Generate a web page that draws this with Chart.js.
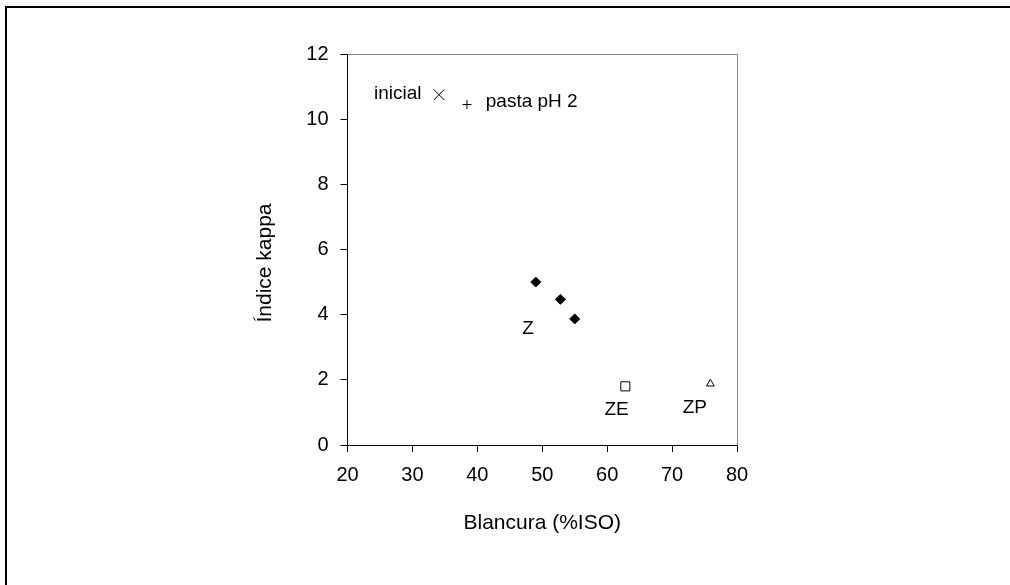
<!DOCTYPE html>
<html>
<head>
<meta charset="utf-8">
<script src="https://cdn.jsdelivr.net/npm/chart.js@4.4.1/dist/chart.umd.min.js"></script>
<style>
  html, body { margin: 0; padding: 0; background: #fff; }
  #wrap { width: 1010px; height: 585px; position: relative; }
</style>
</head>
<body>
<div id="wrap"><canvas id="grafico"></canvas></div>
<script>
// Datos
const xInicial = [34.1];
const yInicial = [10.75];
const xPastaPH2 = [38.4];
const yPastaPH2 = [10.45];
const xZ = [49.0, 52.8, 55.0];
const yZ = [5.0, 4.47, 3.87];
const xZE = [62.8];
const yZE = [1.8];
const xZP = [75.9];
const yZP = [1.88];

const xTicks = [20, 30, 40, 50, 60, 70, 80];
const yTicks = [0, 2, 4, 6, 8, 10, 12];

// Etiquetas de texto dentro del gráfico (en unidades de datos)
const etiquetas = ['inicial', 'pasta pH 2', 'Z', 'ZE', 'ZP'];
const etiquetaX = [31.4, 41.3, 47.8, 61.45, 73.5];
const etiquetaY = [10.77, 10.52, 3.58, 1.07, 1.13];
const etiquetaAlign = ['right', 'left', 'center', 'center', 'center'];

const tituloY = 'Índice kappa';

const puntos = (xs, ys) => xs.map((x, i) => ({ x: x, y: ys[i] }));
const fuente = "'Liberation Sans', Arial, sans-serif";

const marco = {
  id: 'marco',
  afterDraw(chart) {
    const c = chart.ctx;
    const a = chart.chartArea;
    c.save();
    // borde exterior
    c.fillStyle = '#000';
    c.fillRect(5, 6, 1005, 2);
    c.fillRect(5, 6, 2, 579);
    // lados superior y derecho del área de trazado
    c.strokeStyle = '#808080';
    c.lineWidth = 1;
    c.beginPath();
    c.moveTo(a.left, a.top + 0.5);
    c.lineTo(a.right + 0.5, a.top + 0.5);
    c.lineTo(a.right + 0.5, a.bottom);
    c.stroke();
    // etiquetas
    c.fillStyle = '#000';
    c.font = '19px ' + fuente;
    c.textBaseline = 'middle';
    const sx = chart.scales.x, sy = chart.scales.y;
    etiquetas.forEach((t, i) => {
      c.textAlign = etiquetaAlign[i];
      c.fillText(t, sx.getPixelForValue(etiquetaX[i]), sy.getPixelForValue(etiquetaY[i]));
    });
    // título del eje y
    c.font = '21px ' + fuente;
    c.textAlign = 'center';
    c.translate(265, 263);
    c.rotate(-Math.PI / 2);
    c.fillText(tituloY, 0, 0);
    c.restore();
  }
};

Chart.defaults.font.family = fuente;
Chart.defaults.color = '#000';

new Chart(document.getElementById('grafico').getContext('2d'), {
  type: 'scatter',
  data: {
    datasets: [
      { label: 'inicial', data: puntos(xInicial, yInicial), pointStyle: 'crossRot', pointRadius: 7.5, borderColor: '#000', borderWidth: 1 },
      { label: 'pasta pH 2', data: puntos(xPastaPH2, yPastaPH2), pointStyle: 'cross', pointRadius: 4.5, borderColor: '#000', borderWidth: 1 },
      { label: 'Z', data: puntos(xZ, yZ), pointStyle: 'rectRot', pointRadius: 5, backgroundColor: '#000', borderColor: '#000', borderWidth: 1 },
      { label: 'ZE', data: puntos(xZE, yZE), pointStyle: 'rect', pointRadius: 6.4, backgroundColor: '#fff', borderColor: '#000', borderWidth: 1 },
      { label: 'ZP', data: puntos(xZP, yZP), pointStyle: 'triangle', pointRadius: 4.5, backgroundColor: '#fff', borderColor: '#000', borderWidth: 1 }
    ]
  },
  options: {
    responsive: true,
    maintainAspectRatio: false,
    animation: false,
    events: [],
    layout: { padding: { left: 250, right: 273, top: 54, bottom: 40 } },
    plugins: { legend: { display: false }, tooltip: { enabled: false } },
    scales: {
      x: {
        type: 'linear',
        min: 20, max: 80,
        afterBuildTicks: s => { s.ticks = xTicks.map(v => ({ value: v })); },
        afterFit: s => { s.height = 100; },
        grid: { drawOnChartArea: false, drawTicks: true, tickLength: 7, color: '#000', tickColor: '#000' },
        border: { display: true, color: '#000', width: 1 },
        ticks: { padding: 11, font: { size: 20 }, color: '#000' },
        title: { display: true, text: 'Blancura (%ISO)', font: { size: 21 }, color: '#000', padding: { top: 0, bottom: 9 } }
      },
      y: {
        type: 'linear',
        min: 0, max: 12,
        afterBuildTicks: s => { s.ticks = yTicks.map(v => ({ value: v })); },
        afterFit: s => { s.width = 97.5; },
        grid: { drawOnChartArea: false, drawTicks: true, tickLength: 7, color: '#000', tickColor: '#000' },
        border: { display: true, color: '#000', width: 1 },
        ticks: { padding: 12, font: { size: 20 }, color: '#000' },
        title: { display: false }
      }
    }
  },
  plugins: [marco]
});
</script>
</body>
</html>
